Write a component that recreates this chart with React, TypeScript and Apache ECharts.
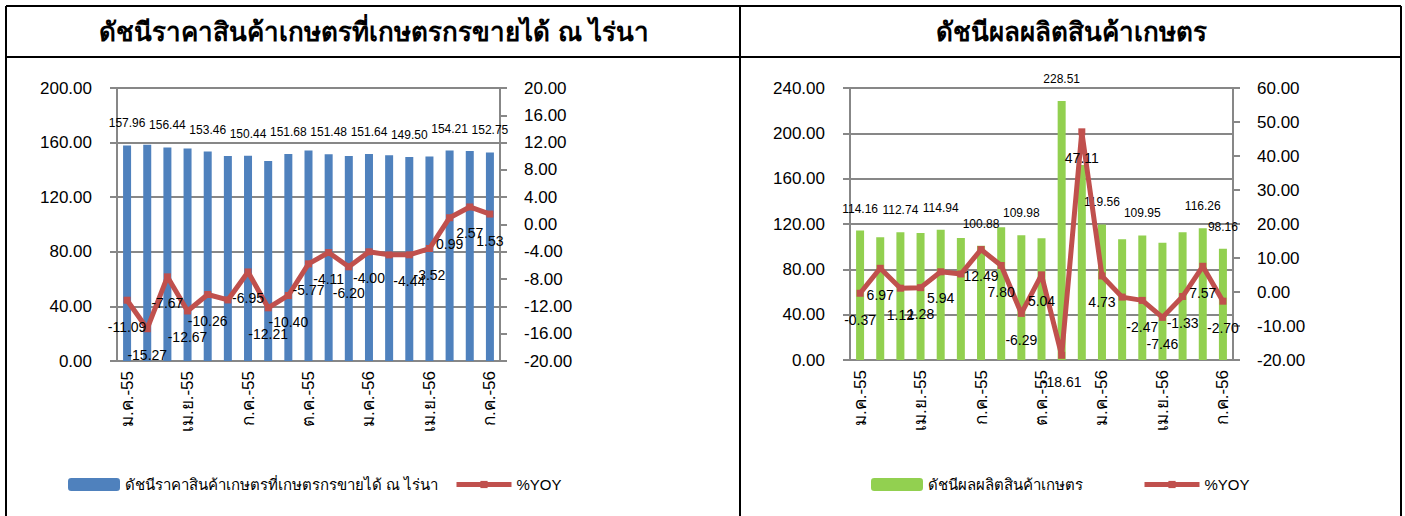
import React, { useEffect, useRef } from "react";
import * as echarts from "echarts";

const months = [
  "ม.ค.-55", "ก.พ.-55", "มี.ค.-55", "เม.ย.-55", "พ.ค.-55", "มิ.ย.-55", "ก.ค.-55",
  "ส.ค.-55", "ก.ย.-55", "ต.ค.-55", "พ.ย.-55", "ธ.ค.-55", "ม.ค.-56", "ก.พ.-56",
  "มี.ค.-56", "เม.ย.-56", "พ.ค.-56", "มิ.ย.-56", "ก.ค.-56",
];

const priceTitle = "ดัชนีราคาสินค้าเกษตรที่เกษตรกรขายได้ ณ ไร่นา";
const outputTitle = "ดัชนีผลผลิตสินค้าเกษตร";
const yoyName = "%YOY";

const priceIndex = [157.96, 158.4, 156.44, 155.7, 153.46, 150.2, 150.44, 146.6, 151.68, 154.2, 151.48, 150.1, 151.64, 150.8, 149.5, 149.9, 154.21, 153.9, 152.75];
const priceYoy = [-11.09, -15.27, -7.67, -12.67, -10.26, -11.05, -6.95, -12.21, -10.4, -5.77, -4.11, -6.2, -4.0, -4.45, -4.44, -3.52, 0.99, 2.57, 1.53];

const outputIndex = [114.16, 108.3, 112.74, 112.0, 114.94, 107.7, 100.88, 117.1, 109.98, 107.4, 228.51, 172.0, 119.56, 106.5, 109.95, 103.5, 112.7, 116.26, 98.16];
const outputYoy = [-0.37, 6.97, 1.12, 1.28, 5.94, 5.3, 12.49, 7.8, -6.29, 5.04, -18.61, 47.11, 4.73, -1.5, -2.47, -7.46, -1.33, 7.57, -2.7];

// which data labels are visible in the original
const priceBarLabelIdx = [0, 2, 4, 6, 8, 10, 12, 14, 16, 18];
const outputBarLabelIdx = [0, 2, 4, 6, 8, 10, 12, 14, 17, 18];
const yoyHiddenLabelIdx = [5, 13];

const leftTicks = { min: 0, max: 200, interval: 40 };
const leftYoyTicks = { min: -20, max: 20, interval: 4 };
const rightTicks = { min: 0, max: 240, interval: 40 };
const rightYoyTicks = { min: -20, max: 60, interval: 10 };

const FONT = "'Liberation Sans', Arial, sans-serif";
const GRAY = "#878787";
const RED = "#C0504D";

export default function App() {
  const ref = useRef<HTMLDivElement>(null);

  useEffect(() => {
    if (!ref.current) return;
    const chart = echarts.init(ref.current, undefined, { renderer: "svg" });

    const xAxis = (gridIndex: number) => ({
      type: "category",
      gridIndex,
      data: months,
      boundaryGap: true,
      axisLine: { lineStyle: { color: GRAY, width: 2 } },
      axisTick: { interval: 2, length: 6, lineStyle: { color: GRAY, width: 2 } },
      axisLabel: { interval: 2, rotate: 90, margin: 10, color: "#000", fontSize: 17, fontFamily: FONT },
    });

    const valAxis = (gridIndex: number, t: any, pos: string, split: boolean) => ({
      type: "value",
      gridIndex,
      position: pos,
      min: t.min,
      max: t.max,
      interval: t.interval,
      axisLine: { show: true, lineStyle: { color: GRAY, width: 2 } },
      axisTick: { show: true, length: 7, lineStyle: { color: GRAY, width: 2 } },
      axisLabel: {
        margin: pos === "left" ? 25 : 24,
        color: "#000",
        fontSize: 17,
        fontFamily: FONT,
        formatter: (v: number) => v.toFixed(2),
      },
      splitLine: { show: split, lineStyle: { color: GRAY, width: 2 } },
    });

    const barSeries = (name: string, data: number[], color: string, idx: number, labelIdx: number[]) => ({
      type: "bar",
      name,
      data,
      xAxisIndex: idx,
      yAxisIndex: idx * 2,
      barWidth: 8,
      itemStyle: { color },
      label: {
        show: true,
        position: "top",
        distance: 16,
        color: "#000",
        fontSize: 12,
        fontFamily: FONT,
        formatter: (p: any) => (labelIdx.includes(p.dataIndex) ? Number(p.value).toFixed(2) : ""),
      },
      z: 2,
    });

    const lineSeries = (data: number[], idx: number) => ({
      type: "line",
      name: yoyName,
      data,
      xAxisIndex: idx,
      yAxisIndex: idx * 2 + 1,
      symbol: "rect",
      symbolSize: 7,
      lineStyle: { color: RED, width: 5 },
      itemStyle: { color: RED },
      label: {
        show: true,
        position: "bottom",
        distance: 16,
        color: "#000",
        fontSize: 14,
        fontFamily: FONT,
        formatter: (p: any) => (yoyHiddenLabelIdx.includes(p.dataIndex) ? "" : Number(p.value).toFixed(2)),
      },
      z: 5,
    });

    const legendText = { color: "#000", fontSize: 15, fontFamily: FONT };
    const lineLegend = (left: number) => ({
      data: [yoyName],
      left,
      top: 472,
      itemWidth: 55,
      itemHeight: 9,
      itemGap: 5,
      lineStyle: { width: 5, color: RED },
      itemStyle: { color: RED },
      textStyle: legendText,
    });

    const borderLine = (x1: number, y1: number, x2: number, y2: number) => ({
      type: "line",
      shape: { x1, y1, x2, y2 },
      style: { stroke: "#000", lineWidth: 2 },
      silent: true,
    });

    chart.setOption({
      animation: false,
      backgroundColor: "#fff",
      grid: [
        { left: 117, top: 88, width: 383, height: 273 },
        { left: 850, top: 88, width: 383, height: 272 },
      ],
      xAxis: [xAxis(0), xAxis(1)],
      yAxis: [
        valAxis(0, leftTicks, "left", true),
        valAxis(0, leftYoyTicks, "right", false),
        valAxis(1, rightTicks, "left", true),
        valAxis(1, rightYoyTicks, "right", false),
      ],
      legend: [
        { data: [priceTitle], left: 63, top: 472, itemWidth: 52, itemHeight: 13, textStyle: legendText },
        lineLegend(449),
        { data: [outputTitle], left: 866, top: 472, itemWidth: 52, itemHeight: 13, textStyle: legendText },
        lineLegend(1137),
      ],
      series: [
        barSeries(priceTitle, priceIndex, "#4F81BD", 0, priceBarLabelIdx),
        lineSeries(priceYoy, 0),
        barSeries(outputTitle, outputIndex, "#92D050", 1, outputBarLabelIdx),
        lineSeries(outputYoy, 1),
      ],
      graphic: [
        borderLine(6, 6, 1401, 6),
        borderLine(6, 57, 1401, 57),
        borderLine(6, 6, 6, 516),
        borderLine(740, 6, 740, 516),
        borderLine(1401, 6, 1401, 516),
        {
          type: "text",
          x: 374,
          y: 32,
          style: { text: priceTitle, fill: "#000", font: "bold 26px " + FONT, align: "center", verticalAlign: "middle" },
        },
        {
          type: "text",
          x: 1071,
          y: 32,
          style: { text: outputTitle, fill: "#000", font: "bold 26px " + FONT, align: "center", verticalAlign: "middle" },
        },
      ],
    });

    return () => chart.dispose();
  }, []);

  return <div ref={ref} style={{ position: "absolute", left: 0, top: 0, width: 1405, height: 516 }} />;
}
